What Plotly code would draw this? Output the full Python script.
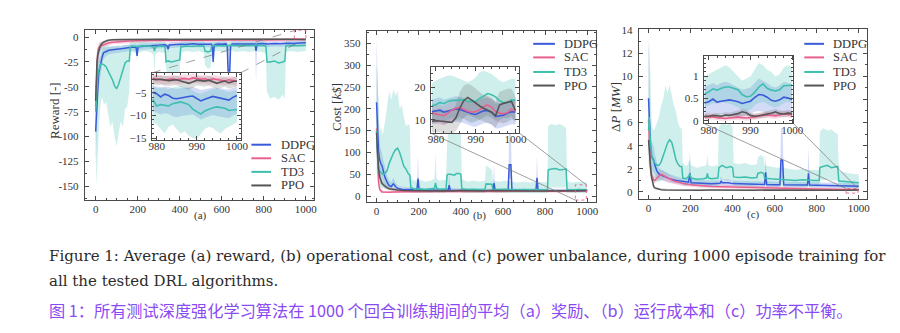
import plotly.graph_objects as go

W, H = 900, 333
SERIF = "Liberation Serif, Times New Roman, Times, serif"
FRAME = "#4a4a4a"
TXT = "#333333"

ALGOS = ["DDPG", "SAC", "TD3", "PPO"]
COLORS = {"DDPG": "#3a5bd9", "SAC": "#e8608e", "TD3": "#3dbfae", "PPO": "#555555"}
FILLS = {"DDPG": "rgba(58,91,217,0.22)", "SAC": "rgba(232,96,142,0.22)",
         "TD3": "rgba(61,191,174,0.25)", "PPO": "rgba(85,85,85,0.20)"}

# ---------------------------------------------------------------------------
# (a) average reward: rows are (episode, mean, lower, upper)
A_PPO = [
    (0, -64, -82, -46), (3, -40, -56, -26), (6, -26, -38, -16), (10, -18, -27, -11),
    (15, -13, -19, -8), (20, -10, -15, -6), (25, -8, -12, -5), (30, -6.5, -9.5, -4.2),
    (40, -4.8, -7, -3.2), (50, -3.8, -5.5, -2.6), (60, -3.2, -4.6, -2.1), (80, -2.8, -4.0, -1.8),
    (100, -2.6, -3.8, -1.6), (130, -2.5, -3.6, -1.5), (160, -2.4, -3.5, -1.4), (200, -2.6, -3.7, -1.6),
    (240, -2.3, -3.4, -1.3), (280, -2.5, -3.6, -1.5), (320, -2.2, -3.3, -1.2), (360, -2.4, -3.5, -1.4),
    (400, -2.3, -3.4, -1.3), (450, -2.2, -3.3, -1.2), (500, -2.5, -3.6, -1.5), (550, -2.3, -3.4, -1.3),
    (600, -2.2, -3.3, -1.2), (650, -2.4, -3.5, -1.4), (700, -2.2, -3.3, -1.2), (750, -2.3, -3.4, -1.3),
    (800, -2.1, -3.2, -1.1), (850, -2.4, -3.5, -1.4), (900, -2.2, -3.3, -1.2), (950, -2.3, -3.4, -1.3),
    (1000, -2.4, -3.5, -1.4),
]
A_SAC = [
    (0, -70, -92, -50), (3, -45, -68, -26), (6, -25, -42, -13), (10, -16, -28, -8),
    (15, -11, -19, -5.5), (20, -9.5, -15, -4.8), (25, -9, -13.5, -4.6), (30, -8.5, -12.5, -4.5),
    (40, -7.5, -10.8, -4.1), (50, -6.5, -9.3, -3.6), (60, -6, -8.6, -3.4), (80, -5.2, -7.6, -3.0),
    (100, -4.8, -7.0, -2.8), (130, -4.3, -6.3, -2.5), (160, -4.0, -6.0, -2.3), (200, -3.8, -5.6, -2.1),
    (240, -3.6, -5.4, -2.0), (280, -3.5, -5.3, -1.9), (320, -3.3, -5.0, -1.7), (360, -3.4, -5.2, -1.8),
    (400, -3.2, -5.0, -1.6), (450, -3.1, -4.8, -1.5), (500, -3.3, -5.0, -1.7), (550, -3.0, -4.7, -1.4),
    (600, -3.1, -4.8, -1.5), (650, -2.9, -4.5, -1.3), (700, -3.0, -4.7, -1.4), (750, -2.8, -4.4, -1.2),
    (800, -2.9, -4.5, -1.3), (850, -2.7, -4.2, -1.2), (900, -2.8, -4.4, -1.2), (950, -2.6, -4.1, -1.1),
    (1000, -2.5, -4.0, -1.0),
]
A_DDPG = [
    (0, -95, -128, -62), (3, -80, -112, -50), (6, -60, -88, -36), (10, -45, -66, -27),
    (14, -37, -52, -23), (18, -33, -46, -21), (22, -30, -41, -19), (26, -25, -35, -16),
    (30, -21, -29, -14), (37, -16, -22, -11), (45, -15, -20, -10.5), (52, -14, -18.5, -10),
    (60, -13.5, -17.5, -9.8), (70, -13, -17, -9.5), (80, -12.8, -16.6, -9.3), (100, -12.6, -16.2, -9.2),
    (120, -11.8, -15.3, -8.6), (140, -11.2, -14.6, -8.1), (160, -10.6, -14.0, -7.6), (180, -10.2, -13.5, -7.2),
    (192, -10.0, -13.3, -7.0), (197, -19, -24, -8), (202, -9.8, -13.0, -6.9), (215, -9.5, -12.7, -6.6),
    (240, -9.2, -12.4, -6.3), (270, -8.6, -11.8, -5.8), (300, -8.2, -11.3, -5.4), (330, -7.8, -10.9, -5.0),
    (340, -9, -12.5, -5.6), (345, -12, -16, -6.5), (350, -8, -11.2, -5.2), (370, -7.6, -10.8, -4.9),
    (400, -7.2, -10.3, -4.6), (430, -7.4, -10.5, -4.8), (460, -6.8, -9.9, -4.3), (490, -7.3, -10.4, -4.7),
    (520, -7.0, -10.1, -4.5), (550, -7.2, -10.3, -4.6), (555, -9, -13, -5.5), (559, -25, -31, -6),
    (564, -8, -11.5, -5), (580, -7.0, -10.1, -4.5), (600, -7.2, -10.3, -4.6), (620, -6.9, -10.0, -4.4),
    (626, -9, -12.5, -5.5), (630, -34, -37, -8), (638, -34, -37, -8), (642, -9, -12.5, -5.5),
    (650, -7.0, -10.1, -4.5), (680, -6.8, -9.9, -4.3), (710, -7.0, -10.1, -4.5), (740, -6.6, -9.7, -4.2),
    (758, -7.0, -10.1, -4.5), (763, -14, -45, -5), (768, -7.0, -10.1, -4.5), (790, -6.6, -9.7, -4.2),
    (820, -6.9, -10.0, -4.4), (850, -6.4, -9.5, -4.0), (880, -6.7, -9.8, -4.2), (910, -6.2, -9.3, -3.9),
    (940, -6.5, -9.6, -4.1), (970, -6.0, -9.1, -3.8), (1000, -5.8, -9.0, -3.6),
]
A_TD3 = [
    (0, -75, -90, -55), (3, -60, -150, -25), (6, -45, -140, -15), (10, -38, -115, -12),
    (15, -33, -95, -10), (20, -30, -75, -10), (25, -27, -65, -9), (30, -27, -60, -8),
    (40, -28, -68, -9), (50, -30, -65, -8), (60, -34, -78, -9), (70, -38, -90, -10),
    (80, -43, -85, -9), (90, -49, -100, -10), (100, -52, -110, -9), (110, -47, -95, -9),
    (120, -40, -85, -10), (130, -34, -90, -9), (140, -26, -72, -8), (150, -24, -70, -8),
    (160, -24, -55, -8), (165, -10, -16, -5), (170, -9, -15, -4.5), (200, -9.5, -16, -5),
    (230, -8.8, -14, -4.5), (260, -9.2, -15, -5), (275, -10, -18, -5), (280, -14, -35, -6),
    (285, -10, -17, -5), (300, -9, -15, -4.5), (330, -9.5, -16, -5), (335, -25, -32, -7),
    (345, -24, -38, -8), (360, -25, -36, -8), (380, -24, -40, -7), (400, -23, -35, -7),
    (405, -10, -16, -5), (430, -9, -14, -4.5), (460, -9.5, -15, -5), (490, -8.8, -14, -4.5),
    (515, -9, -16, -4.5), (520, -14, -28, -6), (535, -15, -32, -6), (548, -14, -30, -6),
    (552, -9, -15, -4.5), (580, -8.5, -14, -4.5), (610, -9, -15, -4.5), (640, -8.2, -13, -4),
    (670, -8.8, -15, -4.5), (700, -8.4, -14, -4), (730, -8.8, -15, -4.5), (760, -8.3, -14, -4),
    (790, -8.6, -15, -4.5), (810, -9, -16, -4.5), (815, -25, -55, -8), (830, -25, -62, -8),
    (850, -24, -60, -7), (870, -26, -63, -8), (890, -25, -58, -8), (900, -24, -62, -7),
    (905, -9, -15, -4.5), (930, -8.5, -14, -4), (960, -8.8, -15, -4.5), (1000, -8.6, -14, -4),
]

# (a) last 22 episodes, zoomed
AI_PPO = [
    (979, -2.0, -3.2, -1.1), (980, -2.1, -3.3, -1.2), (981, -2.0, -3.2, -1.1), (982, -2.2, -3.4, -1.3),
    (983, -2.3, -3.5, -1.4), (984, -2.2, -3.4, -1.3), (985, -2.1, -3.3, -1.2), (986, -2.4, -3.7, -1.4),
    (987, -2.7, -4.0, -1.7), (988, -2.9, -4.3, -1.8), (989, -2.6, -3.9, -1.6), (990, -2.2, -3.4, -1.3),
    (991, -2.3, -3.5, -1.4), (992, -2.4, -3.6, -1.5), (993, -2.2, -3.4, -1.3), (994, -2.5, -3.7, -1.6),
    (995, -2.9, -4.2, -1.8), (996, -2.6, -3.9, -1.6), (997, -2.4, -3.6, -1.5), (998, -2.8, -4.1, -1.8),
    (999, -2.5, -3.8, -1.5), (1000, -2.4, -3.7, -1.4),
]
AI_SAC = [
    (979, -1.8, -2.8, -0.9), (980, -1.9, -2.9, -1.0), (981, -2.0, -3.0, -1.1), (982, -2.2, -3.2, -1.3),
    (983, -2.0, -3.0, -1.1), (984, -1.9, -2.9, -1.0), (985, -2.1, -3.1, -1.2), (986, -2.0, -3.0, -1.1),
    (987, -1.8, -2.8, -0.9), (988, -2.0, -3.0, -1.1), (989, -1.7, -2.7, -0.8), (990, -1.8, -2.8, -0.9),
    (991, -2.0, -3.0, -1.1), (992, -1.9, -2.9, -1.0), (993, -2.2, -3.2, -1.3), (994, -1.9, -2.9, -1.0),
    (995, -2.0, -3.0, -1.1), (996, -2.2, -3.2, -1.3), (997, -2.4, -3.4, -1.5), (998, -2.1, -3.1, -1.2),
    (999, -2.3, -3.3, -1.4), (1000, -2.5, -3.5, -1.6),
]
AI_DDPG = [
    (979, -4.9, -9.0, -3.3), (980, -5.2, -9.4, -3.5), (981, -5.9, -9.8, -3.8), (982, -5.3, -9.5, -3.6),
    (983, -5.6, -9.7, -3.7), (984, -6.2, -10.2, -4.0), (985, -6.3, -10.4, -4.1), (986, -6.1, -10.1, -4.0),
    (987, -6.0, -10.0, -3.9), (988, -5.8, -9.9, -3.8), (989, -5.7, -9.8, -3.7), (990, -6.2, -10.3, -4.0),
    (991, -6.8, -10.9, -4.4), (992, -6.4, -10.6, -4.2), (993, -6.1, -10.2, -4.0), (994, -5.8, -9.9, -3.8),
    (995, -6.0, -10.1, -3.9), (996, -6.2, -10.3, -4.0), (997, -6.4, -10.5, -4.2), (998, -6.6, -10.6, -4.3),
    (999, -6.0, -10.0, -3.9), (1000, -5.6, -9.6, -3.7),
]
AI_TD3 = [
    (979, -6.4, -11.5, -3.5), (980, -7.9, -12.0, -4.0), (981, -7.6, -13.0, -3.8), (982, -7.7, -14.0, -4.0),
    (983, -7.9, -12.5, -4.2), (984, -7.4, -12.0, -3.8), (985, -7.2, -13.0, -3.6), (986, -7.0, -14.0, -3.5),
    (987, -7.3, -13.5, -3.8), (988, -7.6, -14.5, -4.0), (989, -8.6, -15.0, -4.5), (990, -9.2, -15.2, -5.0),
    (991, -9.7, -14.0, -5.2), (992, -9.0, -13.0, -4.8), (993, -8.6, -12.5, -4.5), (994, -8.3, -12.8, -4.2),
    (995, -8.1, -13.5, -4.1), (996, -8.2, -14.0, -4.3), (997, -8.4, -13.0, -4.5), (998, -8.9, -12.5, -4.8),
    (999, -8.8, -12.0, -4.6), (1000, -8.7, -11.5, -4.5),
]

# ---------------------------------------------------------------------------
# (b) operational cost [k$]
B_PPO = [
    (0, 145, 110, 180), (3, 110, 85, 140), (6, 80, 60, 105), (10, 60, 45, 78), (15, 45, 34, 58),
    (20, 36, 27, 46), (25, 30, 23, 38), (30, 27, 21, 34), (40, 22, 17, 27), (50, 19, 15, 23),
    (60, 17, 13.5, 21), (80, 15, 12, 18.5), (100, 14, 11, 17.5), (130, 13, 10, 16.5), (160, 12.5, 9.5, 16),
    (200, 12, 9, 15.5), (240, 12.8, 9.5, 16.5), (280, 11.8, 8.8, 15), (320, 12.5, 9.3, 16),
    (360, 11.5, 8.5, 15), (400, 12.6, 9.4, 16.2), (450, 12, 9, 15.5), (500, 11.6, 8.6, 15),
    (550, 12.7, 9.5, 16.3), (600, 12.1, 9, 15.6), (650, 11.7, 8.7, 15.1), (700, 12.4, 9.2, 16),
    (750, 12, 9, 15.5), (800, 11.5, 8.5, 15), (850, 12.3, 9.2, 15.8), (900, 11.8, 8.8, 15.2),
    (950, 12.5, 9.3, 16), (1000, 12.8, 9.5, 16.5),
]
B_SAC = [
    (0, 155, 125, 185), (3, 100, 75, 130), (6, 55, 38, 75), (10, 30, 20, 42), (15, 16, 10, 24),
    (20, 12, 8, 17), (25, 10, 7, 14), (30, 9.5, 6.5, 13), (40, 9, 6.2, 12.5), (60, 9, 6.2, 12.3),
    (80, 9.5, 6.5, 12.8), (100, 10, 7, 13.2), (140, 10.3, 7.2, 13.6), (180, 10.5, 7.4, 13.8),
    (220, 10.2, 7.1, 13.4), (260, 10.8, 7.6, 14.1), (300, 10.4, 7.3, 13.7), (340, 10.9, 7.7, 14.2),
    (380, 10.5, 7.4, 13.8), (420, 11, 7.8, 14.3), (460, 10.6, 7.5, 13.9), (500, 11.1, 7.9, 14.4),
    (540, 10.7, 7.6, 14), (580, 11.2, 8, 14.5), (620, 10.8, 7.7, 14.1), (660, 11.3, 8.1, 14.6),
    (700, 10.9, 7.8, 14.2), (740, 11.4, 8.2, 14.7), (780, 11, 7.9, 14.3), (820, 11.5, 8.3, 14.8),
    (860, 11.1, 8, 14.4), (900, 11.6, 8.4, 14.9), (940, 11.3, 8.1, 14.6), (980, 11.8, 8.5, 15.1),
    (1000, 12.2, 8.9, 15.5),
]
B_DDPG = [
    (0, 215, 110, 360), (3, 170, 95, 300), (6, 130, 80, 230), (10, 100, 65, 165), (14, 85, 55, 130),
    (18, 75, 48, 110), (22, 72, 45, 105), (26, 70, 42, 100), (30, 60, 36, 88), (40, 43, 27, 64),
    (50, 32, 21, 48), (60, 24, 16, 36), (70, 22, 15, 32), (80, 28, 17, 42), (90, 22, 15, 31),
    (100, 18, 12.5, 25), (120, 16, 11.5, 22), (150, 15, 11, 20), (180, 14, 10.5, 18.5), (192, 15, 11, 20),
    (197, 40, 18, 95), (202, 15, 11, 20), (230, 13.5, 10, 18), (270, 13, 9.8, 17.5), (300, 12.6, 9.5, 17),
    (330, 13.2, 9.8, 17.6), (340, 14, 10, 19), (345, 25, 12, 50), (350, 13.5, 10, 18), (400, 12.6, 9.5, 17),
    (450, 13, 9.8, 17.5), (500, 12.4, 9.3, 16.8), (553, 13, 9.8, 17.5), (558, 30, 14, 75),
    (563, 13, 9.8, 17.5), (600, 12.6, 9.5, 17), (625, 13, 9.8, 17.5), (630, 72, 40, 150),
    (638, 72, 40, 150), (643, 13, 9.8, 17.5), (700, 12.5, 9.4, 16.9), (757, 13, 9.8, 17.5),
    (762, 42, 20, 95), (767, 13, 9.8, 17.5), (800, 12.4, 9.3, 16.8), (850, 12.8, 9.6, 17.2),
    (900, 12.3, 9.2, 16.7), (950, 12.7, 9.5, 17.1), (1000, 12.4, 9.3, 16.8),
]
B_TD3 = [
    (0, 150, 60, 300), (3, 110, 40, 285), (6, 80, 30, 250), (10, 65, 25, 175), (15, 57, 22, 135),
    (20, 55, 20, 160), (25, 52, 19, 150), (30, 50, 18, 140), (40, 52, 18, 170), (50, 58, 18, 200),
    (60, 75, 20, 240), (70, 88, 22, 220), (80, 98, 22, 245), (90, 106, 22, 230), (100, 110, 24, 240),
    (110, 100, 22, 200), (120, 82, 20, 210), (130, 68, 20, 180), (140, 62, 18, 160), (150, 52, 18, 165),
    (158, 48, 17, 160), (163, 20, 8, 40), (180, 16, 7, 35), (200, 17, 7, 38), (230, 15, 7, 33),
    (260, 16, 7, 36), (275, 18, 8, 40), (280, 30, 10, 100), (285, 18, 8, 40), (300, 16, 7, 35),
    (330, 17, 7, 38), (335, 48, 15, 120), (340, 50, 16, 150), (350, 50, 16, 160), (370, 48, 15, 150),
    (380, 52, 16, 158), (390, 52, 16, 155), (400, 50, 15, 160), (405, 17, 7, 40), (430, 15, 7, 33),
    (460, 16, 7, 36), (490, 15, 7, 33), (515, 16, 7, 36), (520, 28, 10, 70), (535, 28, 10, 65),
    (548, 27, 10, 60), (552, 16, 7, 36), (580, 15, 7, 33), (610, 16, 7, 35), (640, 15, 7, 33),
    (670, 14, 6.5, 31), (700, 15, 7, 33), (730, 14, 6.5, 31), (760, 15, 7, 33), (790, 14, 6.5, 31),
    (812, 15, 7, 33), (815, 60, 20, 160), (830, 62, 20, 165), (850, 63, 21, 162), (870, 60, 20, 165),
    (890, 62, 20, 160), (900, 62, 20, 155), (905, 15, 7, 33), (930, 14, 6.5, 31), (960, 15, 7, 33),
    (1000, 14, 6.5, 31),
]

BI_DDPG = [
    (979, 12.4, 8.6, 16.2), (980, 12.6, 8.8, 16.4), (981, 12.9, 9.1, 16.8), (982, 12.3, 8.5, 16.2),
    (983, 12.6, 8.8, 16.5), (984, 13.0, 9.1, 16.9), (985, 13.3, 9.4, 17.2), (986, 13.1, 9.2, 17.0),
    (987, 12.8, 9.0, 16.7), (988, 12.3, 8.5, 16.2), (989, 11.8, 8.0, 15.7), (990, 11.6, 7.8, 15.5),
    (991, 12.2, 8.4, 16.1), (992, 12.7, 8.9, 16.6), (993, 12.8, 9.0, 16.7), (994, 12.3, 8.5, 16.2),
    (995, 11.0, 7.3, 14.9), (996, 11.1, 7.4, 15.0), (997, 11.4, 7.6, 15.3), (998, 12.0, 8.2, 15.9),
    (999, 12.4, 8.6, 16.3), (1000, 12.4, 8.6, 16.3),
]
BI_SAC = [
    (979, 12.0, 9.0, 15.0), (980, 11.8, 8.8, 14.8), (981, 11.5, 8.5, 14.5), (982, 11.2, 8.2, 14.2),
    (983, 12.0, 9.0, 15.0), (984, 12.9, 9.9, 15.9), (985, 13.5, 10.5, 16.5), (986, 13.8, 10.8, 16.8),
    (987, 13.2, 10.2, 16.2), (988, 12.6, 9.6, 15.6), (989, 12.3, 9.3, 15.3), (990, 12.5, 9.5, 15.5),
    (991, 13.0, 10.0, 16.0), (992, 14.0, 11.0, 17.0), (993, 14.5, 11.5, 17.5), (994, 13.8, 10.8, 16.8),
    (995, 12.5, 9.5, 15.5), (996, 12.0, 9.0, 15.0), (997, 11.8, 8.8, 14.8), (998, 12.2, 9.2, 15.2),
    (999, 13.3, 10.3, 16.3), (1000, 12.6, 9.6, 15.6),
]
BI_TD3 = [
    (979, 14.2, 9.0, 21.0), (980, 14.6, 9.5, 22.0), (981, 15.3, 10.0, 22.5), (982, 14.9, 9.5, 23.0),
    (983, 15.6, 10.0, 23.5), (984, 15.9, 10.5, 23.5), (985, 15.9, 10.0, 23.0), (986, 16.0, 10.0, 22.5),
    (987, 16.1, 10.5, 22.0), (988, 15.6, 9.5, 21.5), (989, 15.5, 9.0, 22.0), (990, 15.6, 9.5, 23.0),
    (991, 16.5, 10.0, 24.5), (992, 17.2, 10.5, 25.0), (993, 18.0, 11.0, 24.5), (994, 17.6, 10.5, 24.0),
    (995, 17.0, 10.0, 23.0), (996, 15.8, 9.5, 22.0), (997, 15.2, 9.0, 21.5), (998, 15.3, 9.5, 22.0),
    (999, 16.0, 10.0, 22.5), (1000, 16.0, 10.0, 22.5),
]
BI_PPO = [
    (979, 9.5, 6.0, 13.0), (980, 9.7, 6.2, 13.2), (981, 9.6, 6.1, 13.1), (982, 9.5, 6.0, 13.0),
    (983, 9.3, 5.8, 12.8), (984, 9.2, 5.7, 12.7), (985, 10.5, 6.5, 14.5), (986, 13.5, 8.5, 18.5),
    (987, 15.8, 10.5, 20.5), (988, 16.8, 11.5, 21.0), (989, 16.0, 11.0, 20.5), (990, 15.0, 10.5, 19.5),
    (991, 14.2, 10.0, 18.5), (992, 13.5, 9.5, 17.5), (993, 13.0, 9.0, 17.0), (994, 12.3, 8.5, 16.5),
    (995, 11.2, 7.5, 15.5), (996, 14.5, 10.0, 18.5), (997, 15.0, 10.5, 19.0), (998, 15.2, 10.5, 19.5),
    (999, 15.6, 11.0, 19.5), (1000, 12.8, 9.0, 17.0),
]

# ---------------------------------------------------------------------------
# (c) power unbalance [MW]
C_PPO = [
    (0, 4.5, 3.6, 5.4), (3, 3.5, 2.7, 4.3), (6, 2.8, 2.1, 3.5), (10, 2.0, 1.5, 2.6), (15, 1.2, 0.85, 1.6),
    (20, 0.7, 0.48, 0.95), (25, 0.45, 0.3, 0.62), (30, 0.35, 0.22, 0.5), (40, 0.28, 0.17, 0.4),
    (50, 0.22, 0.13, 0.32), (60, 0.2, 0.12, 0.29), (80, 0.18, 0.1, 0.27), (100, 0.17, 0.1, 0.25),
    (150, 0.16, 0.09, 0.24), (200, 0.17, 0.1, 0.25), (250, 0.15, 0.08, 0.23), (300, 0.16, 0.09, 0.24),
    (350, 0.14, 0.08, 0.22), (400, 0.16, 0.09, 0.24), (450, 0.15, 0.08, 0.23), (500, 0.14, 0.08, 0.22),
    (550, 0.16, 0.09, 0.24), (600, 0.15, 0.08, 0.23), (650, 0.14, 0.08, 0.22), (700, 0.15, 0.08, 0.23),
    (750, 0.16, 0.09, 0.24), (800, 0.14, 0.08, 0.22), (850, 0.15, 0.08, 0.23), (900, 0.14, 0.08, 0.22),
    (950, 0.15, 0.08, 0.23), (1000, 0.16, 0.09, 0.24),
]
C_SAC = [
    (0, 6.2, 4.8, 7.6), (3, 4.5, 3.4, 5.6), (6, 3.0, 2.2, 3.9), (10, 2.0, 1.4, 2.7), (15, 1.4, 0.95, 1.9),
    (20, 1.1, 0.75, 1.5), (25, 1.0, 0.7, 1.35), (30, 1.0, 0.7, 1.35), (40, 1.2, 0.85, 1.6),
    (50, 1.4, 1.0, 1.8), (60, 1.5, 1.1, 1.9), (70, 1.45, 1.05, 1.85), (80, 1.3, 0.95, 1.7),
    (100, 1.1, 0.8, 1.45), (120, 0.95, 0.68, 1.25), (140, 0.85, 0.6, 1.12), (160, 0.75, 0.52, 1.0),
    (200, 0.62, 0.42, 0.85), (250, 0.52, 0.34, 0.72), (300, 0.48, 0.31, 0.67), (350, 0.46, 0.29, 0.65),
    (400, 0.42, 0.26, 0.6), (450, 0.41, 0.25, 0.59), (500, 0.38, 0.23, 0.55), (550, 0.37, 0.22, 0.54),
    (600, 0.33, 0.19, 0.49), (650, 0.31, 0.18, 0.46), (700, 0.29, 0.16, 0.44), (750, 0.27, 0.15, 0.41),
    (800, 0.25, 0.13, 0.39), (850, 0.24, 0.12, 0.37), (900, 0.22, 0.11, 0.35), (950, 0.2, 0.1, 0.32),
    (1000, 0.2, 0.1, 0.32),
]
C_DDPG = [
    (0, 8.1, 4.0, 13.5), (3, 6.0, 3.2, 10.5), (6, 4.5, 2.6, 7.5), (10, 3.5, 2.1, 5.5), (15, 3.0, 1.9, 4.4),
    (20, 2.9, 1.8, 4.2), (25, 2.7, 1.7, 3.9), (30, 2.3, 1.5, 3.3), (40, 1.8, 1.2, 2.5), (50, 1.55, 1.05, 2.1),
    (60, 1.45, 1.0, 1.95), (80, 1.3, 0.9, 1.75), (100, 1.15, 0.8, 1.55), (130, 1.0, 0.7, 1.35),
    (160, 0.9, 0.62, 1.2), (190, 0.85, 0.58, 1.15), (197, 1.6, 0.8, 3.6), (202, 0.8, 0.55, 1.1),
    (230, 0.78, 0.53, 1.06), (260, 0.72, 0.48, 1.0), (300, 0.7, 0.46, 0.97), (340, 0.75, 0.5, 1.03),
    (345, 0.95, 0.6, 1.4), (350, 0.8, 0.54, 1.1), (380, 0.8, 0.54, 1.1), (400, 0.72, 0.48, 1.0),
    (450, 0.68, 0.45, 0.95), (500, 0.65, 0.42, 0.92), (552, 0.65, 0.42, 0.92), (557, 1.7, 0.8, 3.3),
    (562, 0.65, 0.42, 0.92), (600, 0.62, 0.4, 0.88), (625, 0.62, 0.4, 0.88), (630, 2.8, 1.2, 5.5),
    (638, 2.7, 1.2, 5.5), (643, 0.62, 0.4, 0.88), (680, 0.6, 0.38, 0.86), (720, 0.6, 0.38, 0.86),
    (756, 0.6, 0.38, 0.86), (761, 1.6, 0.7, 3.9), (766, 0.6, 0.38, 0.86), (800, 0.58, 0.36, 0.84),
    (850, 0.55, 0.34, 0.8), (900, 0.55, 0.34, 0.8), (950, 0.52, 0.32, 0.77), (1000, 0.5, 0.3, 0.75),
]
C_TD3 = [
    (0, 5.3, 2.5, 12.0), (3, 6.5, 2.0, 13.0), (6, 5.0, 1.6, 11.5), (10, 4.0, 1.3, 8.0), (15, 3.2, 1.1, 6.0),
    (20, 2.8, 1.0, 5.5), (25, 2.6, 1.0, 5.3), (30, 2.5, 1.0, 5.5), (40, 2.3, 0.9, 6.0), (50, 2.3, 0.9, 6.5),
    (60, 2.6, 1.0, 7.5), (70, 3.1, 1.1, 8.0), (80, 3.7, 1.2, 9.2), (90, 4.2, 1.3, 8.5), (100, 4.5, 1.4, 9.3),
    (110, 4.3, 1.3, 8.5), (120, 3.6, 1.2, 7.5), (130, 2.8, 1.1, 7.0), (140, 2.4, 1.0, 6.0), (150, 2.2, 0.9, 5.5),
    (158, 2.2, 0.9, 5.5), (163, 1.2, 0.55, 2.5), (180, 1.15, 0.5, 2.2), (197, 1.5, 0.6, 2.8),
    (202, 1.2, 0.55, 2.3), (230, 1.1, 0.5, 2.1), (260, 1.15, 0.5, 2.2), (275, 1.2, 0.55, 2.3),
    (280, 1.6, 0.6, 3.2), (285, 1.2, 0.55, 2.3), (300, 1.15, 0.5, 2.2), (330, 1.2, 0.55, 2.3),
    (335, 2.1, 1.0, 5.6), (350, 2.3, 1.1, 6.0), (370, 2.1, 1.0, 5.8), (390, 2.2, 1.0, 5.9),
    (400, 2.1, 1.0, 5.5), (405, 1.3, 0.55, 2.5), (430, 1.25, 0.55, 2.4), (460, 1.3, 0.55, 2.5),
    (490, 1.2, 0.5, 2.3), (515, 1.25, 0.55, 2.4), (520, 1.6, 0.7, 3.0), (535, 1.7, 0.75, 3.2),
    (548, 1.6, 0.7, 3.0), (552, 1.2, 0.5, 2.3), (580, 1.15, 0.5, 2.2), (610, 1.1, 0.48, 2.1),
    (640, 1.1, 0.48, 2.1), (670, 1.05, 0.45, 2.0), (700, 1.0, 0.42, 1.9), (730, 1.05, 0.45, 2.0),
    (760, 1.0, 0.42, 1.9), (790, 1.0, 0.42, 1.9), (812, 1.0, 0.42, 1.9), (815, 2.1, 1.0, 5.2),
    (830, 2.2, 1.0, 5.5), (850, 2.3, 1.1, 5.3), (870, 2.1, 1.0, 5.4), (890, 2.2, 1.0, 5.1),
    (900, 2.2, 1.0, 5.0), (905, 0.95, 0.4, 1.8), (930, 0.9, 0.38, 1.7), (960, 0.85, 0.35, 1.6),
    (1000, 0.8, 0.33, 1.5),
]

CI_TD3 = [
    (979, 0.60, 0.30, 1.00), (980, 0.65, 0.35, 1.05), (981, 0.72, 0.40, 1.10), (982, 0.69, 0.38, 1.15),
    (983, 0.73, 0.42, 1.20), (984, 0.76, 0.40, 1.25), (985, 0.76, 0.38, 1.20), (986, 0.73, 0.35, 1.10),
    (987, 0.70, 0.30, 1.00), (988, 0.59, 0.25, 0.90), (989, 0.54, 0.22, 0.95), (990, 0.55, 0.25, 1.00),
    (991, 0.64, 0.35, 1.15), (992, 0.76, 0.40, 1.30), (993, 0.83, 0.42, 1.25), (994, 0.73, 0.38, 1.15),
    (995, 0.69, 0.32, 1.10), (996, 0.67, 0.30, 1.00), (997, 0.70, 0.33, 1.05), (998, 0.79, 0.40, 1.20),
    (999, 0.80, 0.42, 1.25), (1000, 0.80, 0.40, 1.22),
]
CI_DDPG = [
    (979, 0.40, 0.12, 0.78), (980, 0.43, 0.15, 0.80), (981, 0.49, 0.18, 0.85), (982, 0.42, 0.12, 0.80),
    (983, 0.44, 0.15, 0.85), (984, 0.46, 0.14, 0.88), (985, 0.47, 0.12, 0.85), (986, 0.45, 0.10, 0.80),
    (987, 0.43, 0.08, 0.75), (988, 0.39, 0.10, 0.70), (989, 0.41, 0.12, 0.72), (990, 0.44, 0.15, 0.75),
    (991, 0.52, 0.20, 0.85), (992, 0.59, 0.22, 0.95), (993, 0.58, 0.20, 0.90), (994, 0.53, 0.15, 0.85),
    (995, 0.46, 0.12, 0.78), (996, 0.44, 0.10, 0.75), (997, 0.47, 0.15, 0.80), (998, 0.53, 0.18, 0.88),
    (999, 0.51, 0.16, 0.85), (1000, 0.48, 0.14, 0.82),
]
CI_SAC = [
    (979, 0.08, 0.02, 0.15), (980, 0.08, 0.02, 0.15), (981, 0.09, 0.03, 0.16), (982, 0.07, 0.01, 0.14),
    (983, 0.06, 0.00, 0.13), (984, 0.05, 0.00, 0.12), (985, 0.06, 0.00, 0.13), (986, 0.07, 0.01, 0.14),
    (987, 0.08, 0.02, 0.15), (988, 0.07, 0.01, 0.14), (989, 0.06, 0.00, 0.13), (990, 0.07, 0.01, 0.14),
    (991, 0.09, 0.03, 0.16), (992, 0.10, 0.04, 0.17), (993, 0.12, 0.05, 0.19), (994, 0.13, 0.06, 0.20),
    (995, 0.12, 0.05, 0.19), (996, 0.11, 0.04, 0.18), (997, 0.13, 0.06, 0.20), (998, 0.15, 0.08, 0.22),
    (999, 0.14, 0.07, 0.21), (1000, 0.13, 0.06, 0.20),
]
CI_PPO = [
    (979, 0.10, 0.04, 0.16), (980, 0.10, 0.04, 0.16), (981, 0.12, 0.06, 0.18), (982, 0.11, 0.05, 0.17),
    (983, 0.10, 0.04, 0.16), (984, 0.13, 0.07, 0.19), (985, 0.12, 0.06, 0.18), (986, 0.14, 0.08, 0.21),
    (987, 0.16, 0.09, 0.23), (988, 0.20, 0.12, 0.27), (989, 0.18, 0.11, 0.25), (990, 0.12, 0.06, 0.18),
    (991, 0.10, 0.04, 0.16), (992, 0.11, 0.05, 0.17), (993, 0.13, 0.07, 0.19), (994, 0.14, 0.08, 0.21),
    (995, 0.17, 0.10, 0.24), (996, 0.20, 0.12, 0.27), (997, 0.16, 0.09, 0.23), (998, 0.15, 0.08, 0.22),
    (999, 0.17, 0.10, 0.24), (1000, 0.16, 0.09, 0.23),
]

# tick labels
MAIN_XTICKS = [0, 200, 400, 600, 800, 1000]
INSET_XTICKS = [980, 990, 1000]
A_YTICKS = [0, -25, -50, -75, -100, -125, -150]
A_INSET_YTICKS = [-5, -10, -15]
B_YTICKS = [0, 50, 100, 150, 200, 250, 300, 350]
B_INSET_YTICKS = [10, 20]
C_YTICKS = [0, 2, 4, 6, 8, 10, 12, 14]
C_INSET_YTICKS = [0, 0.5, 1]

# zoom-window rectangles drawn on the main panels (x0, x1, y0, y1)
A_BOX = (945, 1000, -1.5, 6.5)
B_BOX = (944, 996, -9, 26)
C_BOX = (940, 996, -0.1, 0.3)

# ---------------------------------------------------------------------------
# layout geometry in pixels (left, right) / (top, bottom)
PANELS = [
    dict(tag="a", ax=1, inset=4,
         xpx=(83, 316), ypx=(25, 200), xr=(-51.6, 1040.8), yr=(-163.6, 6.8),
         ixpx=(151, 241), iypx=(69, 138), ixr=(978.8, 1000.9), iyr=(-15.4, -0.6),
         data={"DDPG": A_DDPG, "SAC": A_SAC, "TD3": A_TD3, "PPO": A_PPO},
         idata={"DDPG": AI_DDPG, "SAC": AI_SAC, "TD3": AI_TD3, "PPO": AI_PPO},
         yticks=A_YTICKS, yminor=12.5, iyticks=A_INSET_YTICKS, iyminor=1,
         box=A_BOX, links=(("x0", "y1", "l", "t"), ("x1", "y0", "r", "t")), dash="dash",
         legend=(252, 272, 280, [143, 157, 171, 185]),
         title="Reward [-]", title_xy=(53, 108), label_xy=(200, 216)),
    dict(tag="b", ax=2, inset=5,
         xpx=(369, 602), ypx=(26, 202), xr=(-46.8, 1043.5), yr=(-13.3, 377.5),
         ixpx=(434, 524), iypx=(63, 131), ixr=(978.7, 1001.0), iyr=(5.9, 26.1),
         data={"DDPG": B_DDPG, "SAC": B_SAC, "TD3": B_TD3, "PPO": B_PPO},
         idata={"DDPG": BI_DDPG, "SAC": BI_SAC, "TD3": BI_TD3, "PPO": BI_PPO},
         yticks=B_YTICKS, yminor=25, iyticks=B_INSET_YTICKS, iyminor=2,
         box=B_BOX, links=(("x0", "y0", "l", "b"), ("x1", "y1", "r", "b")), dash="solid",
         legend=(538, 560, 567, [39, 53, 68, 82]),
         title="Cost [<i>k$</i>]", title_xy=(339, 104), label_xy=(483, 216)),
    dict(tag="c", ax=3, inset=6,
         xpx=(645, 877), ypx=(24, 199), xr=(-46.9, 1040.8), yr=(-0.61, 14.05),
         ixpx=(711, 802), iypx=(52, 121), ixr=(978.8, 1000.3), iyr=(-0.06, 1.45),
         data={"DDPG": C_DDPG, "SAC": C_SAC, "TD3": C_TD3, "PPO": C_PPO},
         idata={"DDPG": CI_DDPG, "SAC": CI_SAC, "TD3": CI_TD3, "PPO": CI_PPO},
         yticks=C_YTICKS, yminor=1, iyticks=C_INSET_YTICKS, iyminor=0.1,
         box=C_BOX, links=(("x0", "y1", "l", "b"), ("x1", "y1", "r", "b")), dash="solid",
         legend=(813, 833, 840, [39, 53, 68, 82]),
         title="Δ<i>P</i> [<i>MW</i>]", title_xy=(622, 104), label_xy=(762, 215)),
]


def px2x(p):
    return p / W


def px2y(p):
    return 1 - p / H


def axid(n):
    return ("x", "y") if n == 1 else (f"x{n}", f"y{n}")


def axkey(n):
    return ("xaxis", "yaxis") if n == 1 else (f"xaxis{n}", f"yaxis{n}")


def unzip(rows):
    return ([r[0] for r in rows], [r[1] for r in rows],
            [r[2] for r in rows], [r[3] for r in rows])


def tick_text(v):
    if v == int(v):
        return str(int(v))
    return str(v)


def axis_style(domain, rng, tickvals, ticktext, minor_dtick, fsize, standoff):
    return dict(
        domain=domain, range=list(rng), showline=True, linecolor=FRAME, linewidth=1,
        mirror="allticks", ticks="inside", ticklen=4, tickwidth=0.8, tickcolor=FRAME,
        tickmode="array", tickvals=tickvals, ticktext=ticktext,
        minor=dict(ticks="inside", ticklen=2, tickwidth=0.6, tickcolor=FRAME,
                   tickmode="linear", tick0=0, dtick=minor_dtick, showgrid=False),
        showgrid=False, zeroline=False, fixedrange=True,
        tickfont=dict(family=SERIF, size=fsize, color=TXT), ticklabelstandoff=standoff,
    )


fig = go.Figure()
layout = {}
shapes = []
annotations = []

for p in PANELS:
    for which in ("main", "inset"):
        n = p["ax"] if which == "main" else p["inset"]
        xa, ya = axid(n)
        series = p["data"] if which == "main" else p["idata"]
        # shaded spread first, then the mean curves on top
        for algo in ALGOS:
            ep, mean, lo, hi = unzip(series[algo])
            fig.add_trace(go.Scatter(
                x=ep + ep[::-1], y=hi + lo[::-1], fill="toself", fillcolor=FILLS[algo],
                line=dict(width=0), mode="lines", hoverinfo="skip", showlegend=False,
                xaxis=xa, yaxis=ya))
        for algo in ALGOS:
            ep, mean, lo, hi = unzip(series[algo])
            fig.add_trace(go.Scatter(
                x=ep, y=mean, mode="lines", name=algo, showlegend=False,
                line=dict(color=COLORS[algo], width=1.5 if which == "main" else 1.6),
                xaxis=xa, yaxis=ya))

        kx, ky = axkey(n)
        if which == "main":
            xdom = [px2x(p["xpx"][0]), px2x(p["xpx"][1])]
            ydom = [px2y(p["ypx"][1]), px2y(p["ypx"][0])]
            layout[kx] = axis_style(xdom, p["xr"], MAIN_XTICKS, [tick_text(v) for v in MAIN_XTICKS],
                                    50, 11, -1)
            layout[ky] = axis_style(ydom, p["yr"], p["yticks"], [tick_text(v) for v in p["yticks"]],
                                    p["yminor"], 11, 3)
        else:
            xdom = [px2x(p["ixpx"][0]), px2x(p["ixpx"][1])]
            ydom = [px2y(p["iypx"][1]), px2y(p["iypx"][0])]
            layout[kx] = axis_style(xdom, p["ixr"], INSET_XTICKS, [tick_text(v) for v in INSET_XTICKS],
                                    2, 11, -4)
            layout[ky] = axis_style(ydom, p["iyr"], p["iyticks"],
                                    [tick_text(v).replace("-", "\u2212") for v in p["iyticks"]],
                                    p["iyminor"], 11, 2)
        layout[kx]["anchor"] = ya
        layout[ky]["anchor"] = xa

    # zoom rectangle on the main panel
    xa, ya = axid(p["ax"])
    bx0, bx1, by0, by1 = p["box"]
    shapes.append(dict(type="rect", xref=xa, yref=ya, x0=bx0, x1=bx1, y0=by0, y1=by1,
                       line=dict(color="#e8608e", width=0.9, dash="dot"), layer="above"))

    # connector lines between the rectangle and the inset frame
    def to_px(v, rng, span):
        return span[0] + (v - rng[0]) / (rng[1] - rng[0]) * (span[1] - span[0])

    corners = {"x0": bx0, "x1": bx1, "y0": by0, "y1": by1}
    for cx, cy, ix, iy in p["links"]:
        bxp = to_px(corners[cx], p["xr"], p["xpx"])
        byp = to_px(corners[cy], p["yr"], (p["ypx"][1], p["ypx"][0]))
        ixp = p["ixpx"][0] if ix == "l" else p["ixpx"][1]
        iyp = p["iypx"][0] if iy == "t" else p["iypx"][1]
        shapes.append(dict(type="line", xref="paper", yref="paper",
                           x0=px2x(ixp), y0=px2y(iyp), x1=px2x(bxp), y1=px2y(byp),
                           line=dict(color="#777777", width=0.7, dash=p["dash"]), layer="above"))

    # legend
    lx0, lx1, tx, rows = p["legend"]
    for algo, yy in zip(ALGOS, rows):
        shapes.append(dict(type="line", xref="paper", yref="paper",
                           x0=px2x(lx0), x1=px2x(lx1), y0=px2y(yy), y1=px2y(yy),
                           line=dict(color=COLORS[algo], width=2), layer="above"))
        annotations.append(dict(text=algo, x=px2x(tx), y=px2y(yy), xref="paper", yref="paper",
                                xanchor="left", yanchor="middle", showarrow=False,
                                font=dict(family=SERIF, size=12.5, color=TXT)))

    # axis title and panel label
    annotations.append(dict(text=p["title"], x=px2x(p["title_xy"][0]), y=px2y(p["title_xy"][1]),
                            xref="paper", yref="paper", textangle=-90, showarrow=False,
                            xanchor="center", yanchor="middle",
                            font=dict(family=SERIF, size=13, color=TXT)))
    annotations.append(dict(text=f"({p['tag']})", x=px2x(p["label_xy"][0]), y=px2y(p["label_xy"][1]),
                            xref="paper", yref="paper", showarrow=False,
                            xanchor="center", yanchor="middle",
                            font=dict(family=SERIF, size=11, color=TXT)))

# caption
CAPTION_EN_1 = ("Figure 1: Average (a) reward, (b) operational cost, and (c) power unbalance, "
                "during 1000 episode training for")
CAPTION_EN_2 = "all the tested DRL algorithms."
CAPTION_ZH = "图 1：所有测试深度强化学习算法在 1000 个回合训练期间的平均（a）奖励、（b）运行成本和（c）功率不平衡。"

for text, ypix, fam, size, col in [
    (CAPTION_EN_1, 258, "DejaVu Serif", 15, "#2b2b2b"),
    (CAPTION_EN_2, 284, "DejaVu Serif", 15, "#2b2b2b"),
    (CAPTION_ZH, 313, "Noto Sans CJK SC", 16.2, "#8a4af3"),
]:
    annotations.append(dict(text=text, x=px2x(45), y=px2y(ypix), xref="paper", yref="paper",
                            xanchor="left", yanchor="middle", showarrow=False,
                            font=dict(family=fam, size=size, color=col)))

fig.update_layout(
    width=W, height=H, margin=dict(l=0, r=0, t=0, b=0),
    paper_bgcolor="white", plot_bgcolor="white", showlegend=False,
    shapes=shapes, annotations=annotations, **layout,
)

fig.write_html("out.html")
